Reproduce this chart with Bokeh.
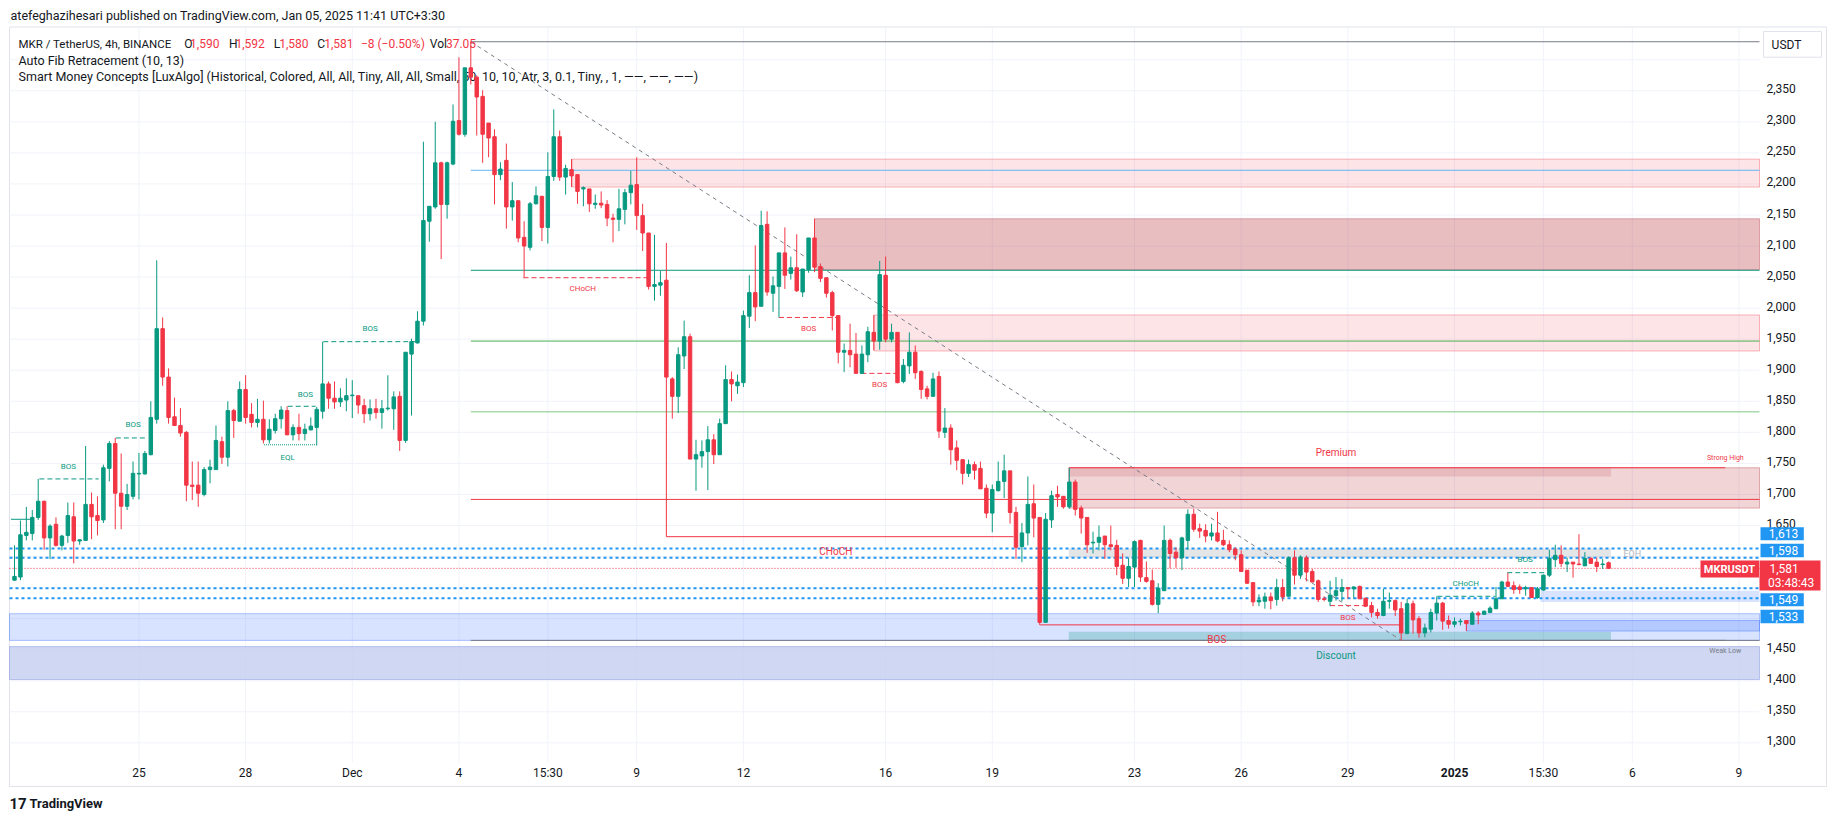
from bokeh.plotting import figure
from bokeh.models import Range1d, ColumnDataSource
from bokeh.embed import file_html
from bokeh.resources import INLINE
from bokeh.core.properties import value

# ---------------- data ----------------
opens = [1562,1567,1634,1637,1663,1689,1630,1652,1618,1634,
         1664,1625,1626,1684,1666,1659,1742,1782,1702,1681,
         1697,1733,1733,1764,1821,1967,1889,1825,1811,1800,
         1715,1715,1700,1740,1740,1785,1760,1835,1818,1869,
         1829,1816,1821,1788,1803,1822,1835,1796,1808,1798,
         1804,1808,1834,1878,1855,1849,1852,1859,1859,1843,
         1830,1838,1832,1838,1838,1858,1787,1926,1944,1979,
         2140,2163,2234,2167,2232,2302,2280,2387,2372,2341,
         2298,2276,2215,2238,2163,2173,2114,2098,2168,2180,
         2130,2212,2276,2211,2223,2215,2192,2192,2167,2169,
         2167,2145,2143,2159,2186,2199,2149,2121,2035,2037,
         2045,1886,1858,1923,1954,1757,1762,1769,1788,1764,
         1814,1885,1875,1880,1987,2025,2003,2135,2024,2035,
         2089,2056,2065,2026,2062,2113,2067,2049,2025,1988,
         1929,1932,1926,1895,1925,1961,1947,2053,1950,1961,
         1882,1907,1929,1898,1870,1858,1890,1800,1807,1775,
         1756,1734,1748,1742,1710,1670,1706,1721,1738,1671,
         1616,1638,1685,1663,1494,1659,1700,1697,1680,1720,
         1678,1663,1622,1623,1633,1619,1618,1586,1565,1583,
         1626,1566,1561,1523,1545,1626,1607,1598,1626,1668,
         1645,1642,1633,1638,1626,1619,1612,1603,1578,1558,
         1527,1528,1535,1531,1550,1536,1598,1570,1598,1576,
         1561,1532,1528,1537,1544,1550,1548,1552,1533,1521,
         1510,1505,1528,1529,1516,1476,1524,1500,1477,1483,
         1509,1525,1497,1491,1495,1497,1491,1509,1507,1510,
         1516,1532,1559,1553,1551,1548,1550,1534,1546,1570,
         1595,1602,1588,1591,1588,1585,1597,1591,1587,1590]
highs = [1618,1658,1680,1675,1725,1690,1652,1663,1635,1687,
         1687,1627,1778,1703,1697,1748,1786,1791,1766,1717,
         1753,1767,1770,1850,2077,1985,1903,1856,1839,1802,
         1753,1753,1744,1756,1811,1793,1850,1838,1882,1892,
         1847,1854,1851,1821,1830,1842,1842,1813,1830,1814,
         1824,1841,1946,1882,1882,1871,1887,1884,1859,1854,
         1853,1854,1852,1892,1866,1866,1929,1951,1995,2268,
         2164,2300,2236,2236,2328,2404,2387,2429,2375,2351,
         2298,2288,2235,2265,2203,2173,2140,2171,2196,2181,
         2251,2320,2286,2231,2240,2215,2196,2192,2183,2188,
         2174,2152,2192,2192,2221,2243,2168,2121,2118,2060,
         2105,1889,1937,1980,1959,1788,1787,1810,1797,1822,
         1908,1898,1893,1996,2053,2101,2157,2156,2051,2089,
         2130,2083,2119,2063,2113,2144,2072,2049,2028,1988,
         1943,1975,1960,1940,1970,1989,2076,2083,1975,1961,
         1918,1961,1940,1900,1875,1896,1898,1839,1813,1787,
         1756,1756,1753,1753,1716,1716,1753,1764,1738,1680,
         1654,1729,1716,1663,1670,1706,1714,1697,1743,1724,
         1682,1663,1640,1650,1633,1650,1627,1605,1598,1626,
         1627,1592,1579,1557,1650,1629,1615,1632,1676,1677,
         1653,1652,1653,1672,1643,1626,1615,1610,1578,1558,
         1539,1542,1542,1564,1564,1600,1610,1602,1602,1580,
         1563,1536,1561,1567,1564,1551,1552,1553,1533,1527,
         1516,1548,1542,1531,1527,1532,1529,1504,1492,1516,
         1536,1527,1505,1502,1500,1497,1512,1512,1513,1520,
         1551,1561,1574,1560,1555,1553,1550,1551,1571,1611,
         1619,1618,1598,1591,1636,1607,1599,1598,1596,1592]
lows = [1561,1562,1626,1626,1659,1611,1596,1616,1610,1622,
        1589,1619,1626,1628,1634,1654,1721,1644,1644,1675,
        1692,1692,1732,1763,1814,1875,1814,1811,1793,1689,
        1691,1680,1697,1718,1740,1749,1745,1791,1818,1814,
        1808,1808,1782,1782,1798,1806,1796,1787,1787,1787,
        1803,1779,1822,1838,1838,1841,1834,1823,1830,1815,
        1819,1822,1806,1835,1804,1770,1783,1827,1943,1972,
        2107,2160,2079,2144,2230,2278,2276,2360,2278,2234,
        2243,2167,2206,2128,2141,2106,2049,2093,2167,2108,
        2104,2205,2205,2183,2195,2168,2164,2155,2160,2161,
        2132,2106,2124,2135,2167,2126,2092,2030,2012,2020,
        1632,1822,1831,1902,1757,1706,1743,1707,1749,1764,
        1814,1850,1862,1873,1968,1979,2003,2020,1994,1985,
        2031,2046,2026,2018,2057,2058,2042,2017,1964,1911,
        1897,1905,1895,1894,1913,1932,1933,1945,1945,1879,
        1879,1894,1886,1854,1853,1858,1791,1791,1748,1739,
        1716,1728,1724,1709,1662,1639,1705,1694,1653,1596,
        1591,1618,1631,1490,1494,1646,1680,1677,1677,1666,
        1637,1606,1605,1610,1596,1610,1570,1556,1551,1551,
        1559,1558,1521,1509,1545,1581,1582,1578,1611,1640,
        1630,1623,1626,1623,1617,1607,1594,1575,1556,1520,
        1520,1516,1515,1521,1528,1536,1555,1564,1560,1559,
        1527,1528,1520,1529,1528,1532,1532,1532,1519,1502,
        1500,1504,1516,1504,1465,1475,1476,1469,1470,1478,
        1497,1482,1484,1486,1489,1480,1491,1491,1506,1509,
        1515,1532,1552,1540,1540,1537,1534,1532,1545,1567,
        1583,1583,1575,1566,1586,1585,1589,1575,1580,1580]
closes = [1568,1635,1639,1663,1689,1630,1649,1618,1633,1666,
          1625,1627,1684,1664,1658,1743,1782,1702,1681,1700,
          1734,1734,1766,1824,1967,1889,1824,1811,1799,1715,
          1713,1702,1740,1744,1787,1760,1835,1819,1869,1824,
          1816,1821,1788,1805,1822,1836,1796,1808,1798,1805,
          1810,1837,1878,1855,1849,1855,1859,1860,1844,1830,
          1838,1832,1838,1839,1857,1787,1929,1946,1979,2141,
          2164,2234,2167,2234,2301,2280,2387,2372,2340,2280,
          2274,2215,2224,2163,2173,2113,2100,2168,2181,2130,
          2212,2276,2211,2225,2213,2188,2194,2168,2169,2166,
          2145,2143,2160,2186,2198,2149,2121,2035,2038,2041,
          1889,1858,1925,1954,1757,1764,1769,1788,1764,1814,
          1885,1878,1881,1988,2025,2002,2133,2026,2036,2089,
          2053,2065,2028,2063,2113,2066,2048,2024,1988,1929,
          1932,1925,1895,1926,1962,1947,2054,1950,1961,1880,
          1908,1929,1896,1869,1858,1886,1802,1807,1772,1755,
          1734,1748,1739,1709,1670,1708,1721,1738,1671,1615,
          1638,1684,1662,1494,1660,1698,1696,1680,1720,1676,
          1662,1619,1623,1631,1619,1616,1584,1565,1584,1624,
          1567,1560,1523,1549,1626,1605,1598,1630,1668,1644,
          1641,1633,1638,1625,1619,1611,1603,1576,1557,1527,
          1530,1535,1529,1550,1535,1598,1570,1599,1575,1559,
          1531,1531,1538,1545,1550,1548,1551,1532,1520,1510,
          1505,1528,1529,1514,1477,1524,1498,1477,1485,1510,
          1525,1496,1491,1495,1496,1492,1509,1506,1512,1517,
          1532,1559,1552,1547,1547,1550,1534,1548,1570,1597,
          1602,1589,1591,1588,1587,1597,1589,1584,1588,1581]

# time axis: bar index of each labelled bar
x_tick_pos = [21, 39, 57, 75, 90, 105, 123, 147, 165, 189, 207, 225, 243, 258, 273, 291]
x_tick_labels = ["25", "28", "Dec", "4", "15:30", "9", "12", "16", "19", "23", "26", "29", "2025", "15:30", "6", "9"]
# price axis
price_ticks = [1300, 1350, 1400, 1450, 1650, 1700, 1750, 1800, 1850, 1900, 1950,
               2000, 2050, 2100, 2150, 2200, 2250, 2300, 2350]
grid_prices = [1300, 1350, 1400, 1450, 1500, 1550, 1600, 1650, 1700, 1750, 1800, 1850, 1900, 1950,
               2000, 2050, 2100, 2150, 2200, 2250, 2300, 2350, 2400]

# Auto Fib levels (1, 0.786, 0.618, 0.5, 0.382, 0.236, 0)
fib_levels = [2429, 2222, 2061, 1947, 1833, 1692, 1465]
fib_start = 77
fib_anchor_x = [77, 234]
fib_anchor_y = [2429, 1465]

# zones: left bar, right bar (None = to the price scale), bottom price, top price
zone_left = [94.1, 135, 145.1, 177.9, 177.9, 177.9, None, None, 177.9, 245, 257.5]
zone_right = [None, None, None, None, 269.4, 269.4, None, None, 269.4, None, None]
zone_bottom = [2195, 2062, 1931, 1678, 1729, 1598, 1402, 1465, 1465, 1480, 1527]
zone_top = [2240, 2144, 1989, 1743, 1743, 1613, 1455, 1508, 1479, 1497, 1545]

# dotted level lines and last price
level_prices = [1613, 1598, 1549, 1533]
last_price = 1581

# structure lines: x0, x1 (bar), price
struct_x0 = [4.2, 17.1, 52.1, 46.1, 240.1, 251.9, 85.9, 129, 142.9, 222, 110, 173, -0.6, 42.1, 178, 178]
struct_x1 = [14.2, 22.1, 67.7, 50.8, 249.9, 258.4, 106.8, 138.8, 149, 228, 168.6, 233.9, 2.8, 51, 288.7, 288.7]
struct_y = [1725, 1791, 1946, 1842, 1536, 1574, 2049, 1985, 1895, 1521, 1632, 1490, 1660, 1780, 1743, 1465]

# structure labels
lab_text = ["BOS", "BOS", "BOS", "BOS", "EQL", "CHoCH", "BOS", "BOS", "BOS", "CHoCH", "BOS",
            "CHoCH", "BOS", "Premium", "Discount", "Strong High", "Weak Low", "EQH"]
lab_x = [9.1, 20, 60, 49.1, 46.1, 95.9, 134, 146, 225, 244.9, 254.9,
         138.6, 202.9, 223, 223, 288.7, 288.7, 271.5]
lab_y = [1745.5, 1812.2, 1966.7, 1860.5, 1759, 2031.2, 1966.7, 1876.6, 1501.9, 1556.1, 1594.8,
         1608.1, 1466, 1768, 1440, 1758.5, 1447.6, 1604.4]

# price-scale tags
tag_text = ["1,613", "1,598", "1,549", "1,533"]

# ---------------- layout helpers (page pixel <-> data) ----------------
def X(px):
    return (px - 14) / 5.926


def Y(py):
    return 2350 - (py - 90.3) / 0.621


def PY(price):
    return 90.3 + (2350 - price) * 0.621


FONT = "Roboto"
GREEN = "#089981"
RED = "#f23645"
TXT = "#131722"
CL, CR, CT, CB = 9, 1759, 27, 762    # chart pane in page pixels

p = figure(width=1827, height=813,
           x_range=Range1d(X(0), X(1827)), y_range=Range1d(Y(813), Y(0)),
           x_axis_type=None, y_axis_type=None,
           output_backend="svg", toolbar_location=None,
           min_border_left=0, min_border_right=0, min_border_top=0, min_border_bottom=0)
p.outline_line_color = None
p.background_fill_color = "white"
p.border_fill_color = "white"
p.xgrid.visible = False
p.ygrid.visible = False


def txt(x, y, t, size="12px", color=TXT, align="left", bold=False):
    p.text(x=[x], y=[y], text=[t], text_color=color, text_font=value(FONT), text_font_size=size,
           text_align=align, text_baseline="middle", text_font_style="bold" if bold else "normal")


# widget border
p.quad(left=X(9), right=X(1826), top=Y(26.5), bottom=Y(786), fill_color=None,
       line_color="#e0e3eb", line_width=1)

# grid
p.segment(x0=x_tick_pos, x1=x_tick_pos, y0=[Y(CB)] * len(x_tick_pos), y1=[Y(CT)] * len(x_tick_pos),
          line_color="#f0f3fa", line_width=1)
p.segment(x0=[X(CL)] * len(grid_prices), x1=[X(CR)] * len(grid_prices), y0=grid_prices, y1=grid_prices,
          line_color="#f0f3fa", line_width=1)

# zones
zone_fill = ["#f23645", "#b22833", "#f23645", "#b22833", "#b22833", "#787b86",
             "#c3cdf0", "#2962ff", "#089981", "#2962ff", "#2962ff"]
zone_alpha = [0.13, 0.30, 0.13, 0.20, 0.15, 0.20, 0.8, 0.18, 0.25, 0.2, 0.18]
zone_line = ["#f23645", "#b22833", "#f23645", "#b22833", None, None,
             "#5b6fd6", "#2962ff", None, "#2962ff", None]
for l, r, b, t, fc, fa, lc in zip(zone_left, zone_right, zone_bottom, zone_top, zone_fill, zone_alpha, zone_line):
    p.quad(left=X(CL) if l is None else l, right=X(CR) if r is None else r, bottom=b, top=t,
           fill_color=fc, fill_alpha=fa, line_color=lc, line_alpha=0.35, line_width=1)

# fib lines
fib_colors = ["#787b86", "#64b5f6", "#089981", "#4caf50", "#81c784", "#f23645", "#787b86"]
n = len(fib_levels)
p.segment(x0=[fib_start] * n, x1=[X(CR)] * n, y0=fib_levels, y1=fib_levels,
          line_color=fib_colors, line_width=1)
p.line(fib_anchor_x, fib_anchor_y, line_color="#787b86", line_width=1, line_dash="4 4")

# dotted level lines
p.segment(x0=[X(CL)] * 4, x1=[X(CR)] * 4, y0=level_prices, y1=level_prices,
          line_color="#2196f3", line_width=2, line_dash="3 3")
p.segment(x0=[X(CL)], x1=[X(CR)], y0=[last_price], y1=[last_price],
          line_color=RED, line_width=1, line_dash="1 2")

# structure lines
s_color = [GREEN] * 6 + [RED] * 6 + [GREEN, GREEN, RED, "#787b86"]
s_dash = ["5 3"] * 10 + ["solid", "solid", "solid", "1 1", "solid", "solid"]
for x0, x1, y, c, d in zip(struct_x0, struct_x1, struct_y, s_color, s_dash):
    p.segment(x0=[x0], x1=[x1], y0=[y], y1=[y], line_color=c, line_width=1, line_dash=d)

# legend (under the candles, as in the reference)
txt(X(10), Y(15), "atefeghazihesari published on TradingView.com, Jan 05, 2025 11:41 UTC+3:30", size="12.5px")
txt(X(18), Y(43), "MKR / TetherUS, 4h, BINANCE", size="11.5px")
leg = [("O", 183.7, TXT), ("1,590", 189.6, RED), ("H", 228.6, TXT), ("1,592", 235, RED),
       ("L", 273.2, TXT), ("1,580", 278.7, RED), ("C", 316.8, TXT), ("1,581", 323.7, RED),
       ("\u22128 (\u22120.50%)", 360.4, RED), ("Vol", 429.3, TXT), ("37.05", 445.4, RED)]
for t, x, c in leg:
    txt(X(x), Y(43), t, size="12px", color=c)
txt(X(18), Y(60), "Auto Fib Retracement (10, 13)", size="12.5px")
txt(X(18), Y(76), "Smart Money Concepts [LuxAlgo] (Historical, Colored, All, All, Tiny, All, All, Small, 50, "
    "10, 10, Atr, 3, 0.1, Tiny, , 1, \u2014\u2014, \u2014\u2014, \u2014\u2014)", size="12.5px")

# candles
idx = list(range(len(closes)))
cols = [GREEN if c >= o else RED for o, c in zip(opens, closes)]
src = ColumnDataSource(dict(x=idx, h=highs, l=lows,
                            top=[max(o, c) for o, c in zip(opens, closes)],
                            bot=[min(o, c) for o, c in zip(opens, closes)], col=cols))
p.segment(x0="x", x1="x", y0="l", y1="h", line_color="col", line_width=1, source=src)
p.vbar(x="x", width=0.58, top="top", bottom="bot", fill_color="col", line_color="col",
       line_width=1, source=src)

# structure labels
lab_col = [GREEN] * 5 + [RED] * 4 + [GREEN, GREEN, RED, RED, RED, GREEN, RED, "#787b86", "#b2b5be"]
lab_size = ["8px"] * 11 + ["10px", "10px", "10px", "10px", "7px", "7px", "9px"]
lab_align = ["center"] * 17 + ["left"]
for i in range(len(lab_text)):
    txt(lab_x[i], lab_y[i], lab_text[i], size=lab_size[i], color=lab_col[i], align=lab_align[i])

# price scale labels (drawn 2px above their level, as TradingView does)
for pr in price_ticks:
    txt(X(1766), Y(PY(pr) - 2), f"{pr:,}", size="12px")

# time scale labels
for t, l in zip(x_tick_pos, x_tick_labels):
    txt(t, Y(772), l, size="12px", align="center", bold=(l == "2025"))

# price scale tags
tag_top = [526.7, 543.3, 592.7, 609.3]
tag_bot = [539.7, 556.7, 605.7, 622.7]
p.quad(left=[X(1760)] * 4, right=[X(1803.3)] * 4, top=[Y(v) for v in tag_top],
       bottom=[Y(v) for v in tag_bot], fill_color="#2196f3", line_color=None)
for t, a, b in zip(tag_text, tag_top, tag_bot):
    txt(X(1783), Y((a + b) / 2), t, size="12px", color="white", align="center")
p.quad(left=[X(1700)], right=[X(1758.5)], top=[Y(560)], bottom=[Y(577)], fill_color=RED, line_color=None)
txt(X(1729), Y(568.5), "MKRUSDT", size="11px", color="white", align="center", bold=True)
p.quad(left=[X(1759)], right=[X(1820)], top=[Y(560)], bottom=[Y(590)], fill_color=RED, line_color=None)
txt(X(1769), Y(567.5), f"{last_price:,}", size="12px", color="white")
txt(X(1767.5), Y(582), "03:48:43", size="12px", color="white")

# currency box
p.quad(left=[X(1763)], right=[X(1821)], top=[Y(31)], bottom=[Y(56.7)], fill_color="white",
       line_color="#e0e3eb", line_width=1)
txt(X(1786), Y(44), "USDT", size="12px", align="center")

# footer
txt(X(9), Y(803), "17", size="15px", bold=True)
txt(X(29), Y(803), "TradingView", size="13px", bold=True)

open("out.html", "w").write(file_html(p, INLINE))
